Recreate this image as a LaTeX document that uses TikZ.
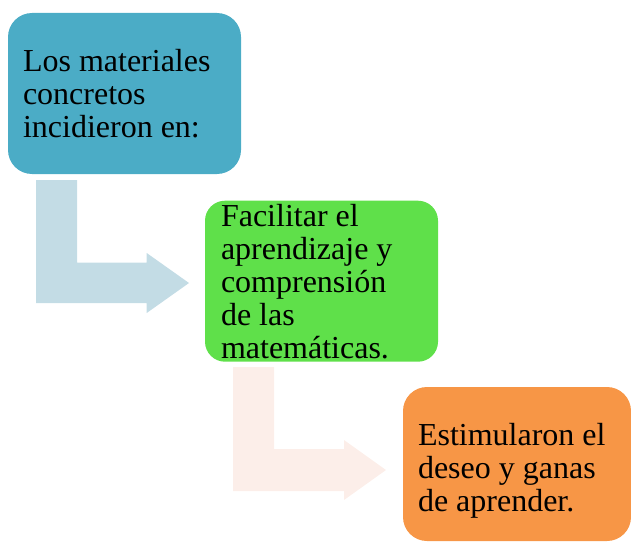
\documentclass[tikz,border=0pt]{standalone}
\usepackage{fontspec}
\setmainfont{Liberation Serif}
\definecolor{cblue}{RGB}{75,172,198}
\definecolor{cgreen}{RGB}{95,224,74}
\definecolor{corange}{RGB}{247,150,70}
\definecolor{arrblue}{RGB}{195,220,229}
\definecolor{arrpeach}{RGB}{252,238,233}
\begin{document}
\begin{tikzpicture}[x=0.75pt,y=-0.75pt,
  box/.style={rounded corners=18pt,draw=none,align=flush left,inner ysep=0pt,
    font=\fontsize{24pt}{24.75pt}\selectfont,text=black}]
\useasboundingbox (0,0) rectangle (631,542);
% bent arrows
\fill[arrblue] (36,180) -- (77,180) -- (77,262.7) -- (146.7,262.7) -- (146.7,253)
  -- (189,283) -- (146.7,313) -- (146.7,303) -- (36,303) -- cycle;
\fill[arrpeach] (233,367) -- (274,367) -- (274,449) -- (344,449) -- (344,440)
  -- (386,470) -- (344,500) -- (344,491) -- (233,491) -- cycle;
% boxes
\node[box,fill=cblue,minimum width=174.75pt,minimum height=120.75pt,
  inner xsep=11.25pt,text width=152.25pt] (b1) at (124.5,93.5)
  {Los materiales\\concretos\\incidieron en:};
\node[box,fill=cgreen,minimum width=174.75pt,minimum height=120.75pt,
  inner xsep=12pt,text width=150.75pt,rounded corners=15pt] (b2) at (321.5,281.2)
  {Facilitar el\\aprendizaje y\\comprensión\\de las\\matemáticas.};
\node[box,fill=corange,minimum width=171pt,minimum height=115.5pt,
  inner xsep=11.25pt,text width=148.5pt] (b3) at (517,464)
  {\rule{0pt}{26.3pt}Estimularon el\\deseo y ganas\\de aprender.};
\end{tikzpicture}
\end{document}
